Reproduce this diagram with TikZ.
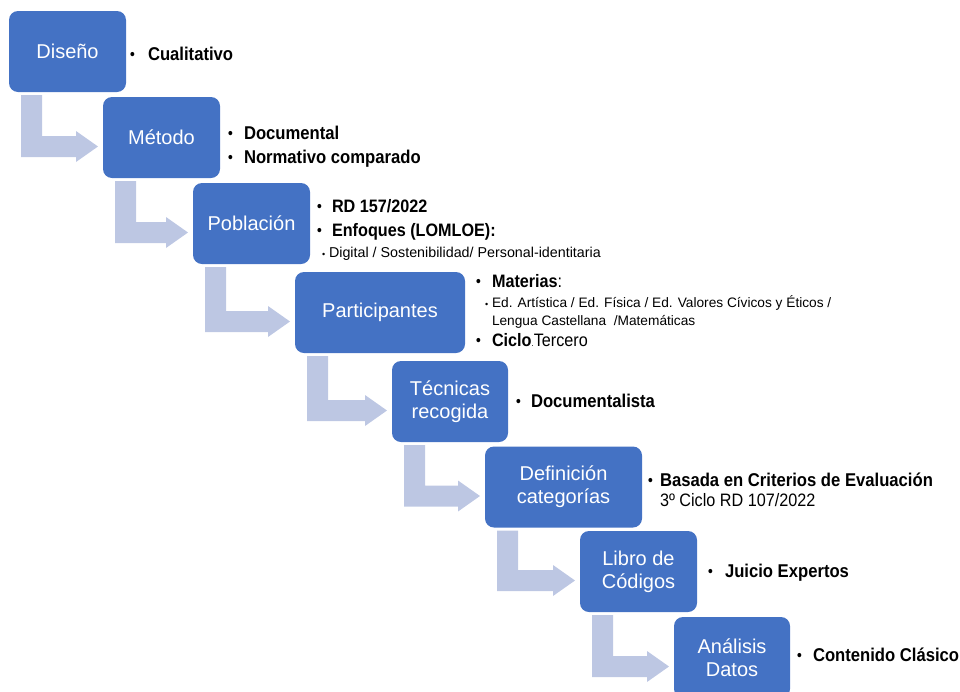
\documentclass[tikz,border=0pt]{standalone}
\usepackage{fontspec}
\setmainfont{Liberation Sans}
\newfontfamily\sidefont{Liberation Sans}[FakeStretch=0.9]
\usetikzlibrary{calc}
\definecolor{boxblue}{RGB}{68,114,196}
\definecolor{arrowfill}{RGB}{189,199,227}
\newcommand\bentarr[2]{\fill[arrowfill] let \p1=(#1.south west), \p2=(#2.north west) in
  (\x1+12pt,\y1-3pt) -- (\x1+33pt,\y1-3pt) -- (\x1+33pt,\y2-39pt) -- (\x2-27pt,\y2-39pt)
  -- (\x2-27pt,\y2-34pt) -- (\x2-5pt,\y2-49.5pt) -- (\x2-27pt,\y2-65pt) -- (\x2-27pt,\y2-60pt)
  -- (\x1+12pt,\y2-60pt) -- cycle;}
\newcommand\bul[1]{\makebox[#1][l]{\raisebox{1pt}{\fontsize{15}{15}\selectfont\textbullet}}}
\newcommand\sbul{\makebox[7pt][l]{\fontsize{9}{9}\selectfont\textbullet}}
\begin{document}
\begin{tikzpicture}[x=1pt,y=-1pt,
  box/.style={fill=boxblue, rounded corners=9pt, text=white, font=\fontsize{20}{23}\selectfont,
    align=center, inner sep=0pt, outer sep=0pt, minimum height=81pt},
  side/.style={anchor=base west, inner sep=0pt, outer sep=0pt, text=black,
    font=\sidefont\bfseries\fontsize{18.5}{22}\selectfont},
  sideb/.style={side, font=\sidefont\bfseries\fontsize{18}{22}\selectfont},
  small/.style={anchor=base west, inner sep=0pt, outer sep=0pt, text=black,
    font=\fontsize{13.7}{16}\selectfont},
  plain/.style={side, font=\sidefont\fontsize{18}{22}\selectfont}]
\useasboundingbox (0,0) rectangle (960,691);
\clip (0,0) rectangle (960,691);
% boxes
\node[box, minimum width=117pt] (b1) at (67.5,51.5) {Diseño};
\node[box, minimum width=117pt] (b2) at (161.5,137.5) {Método};
\node[box, minimum width=117pt] (b3) at (251.5,223.5) {Población};
\node[box, minimum width=170pt] (b4) at (380,312.5) {Participantes};
\node[box, minimum width=116pt] (b5) at (450,401.5) {Técnicas\\recogida};
\node[box, minimum width=157pt] (b6) at (563.5,487) {Definición\\categorías};
\node[box, minimum width=117pt] (b7) at (638.5,571.5) {Libro de\\Códigos};
\node[box, minimum width=116pt] (b8) at (732,657.5) {Análisis\\Datos};
% arrows
\bentarr{b1}{b2}
\bentarr{b2}{b3}
\bentarr{b3}{b4}
\bentarr{b4}{b5}
\bentarr{b5}{b6}
\bentarr{b6}{b7}
\bentarr{b7}{b8}
% side texts
\node[side] (t1) at (130,60) {\bul{18pt}Cualitativo};
\node[side] (t2a) at (228,139) {\bul{16pt}Documental};
\node[side] (t2b) at (228,163) {\bul{16pt}Normativo comparado};
\node[sideb] (t3a) at (317,212.5) {\bul{15pt}RD 157/2022};
\node[sideb] (t3b) at (317,236.5) {\bul{15pt}Enfoques (LOMLOE):};
\node[small, font=\fontsize{14.3}{16}\selectfont] (t3c) at (322,257) {\sbul Digital / Sostenibilidad/ Personal-identitaria};
\node[sideb] (t4a) at (476,287) {\bul{16pt}Materias{\mdseries:}};
\node[small] (t4b) at (485,307.5) {\sbul Ed. Artística / Ed. Física / Ed. Valores Cívicos y Éticos /};
\node[small] (t4c) at (492,325.5) {Lengua Castellana ~/Matemáticas};
\node[sideb] (t4d) at (476,346.7) {\bul{16pt}Ciclo{\mdseries\fontsize{9}{9}\selectfont.}{\mdseries Tercero}};
\node[side] (t5) at (516,407) {\bul{15pt}Documentalista};
\node[side] (t6a) at (648,486) {\bul{12pt}Basada en Criterios de Evaluación};
\node[plain] (t6b) at (660,506.7) {3º Ciclo RD 107/2022};
\node[side] (t7) at (708,577.7) {\bul{17pt}Juicio Expertos};
\node[side] (t8) at (797,661.7) {\bul{16pt}Contenido Clásico};
\end{tikzpicture}
\end{document}
